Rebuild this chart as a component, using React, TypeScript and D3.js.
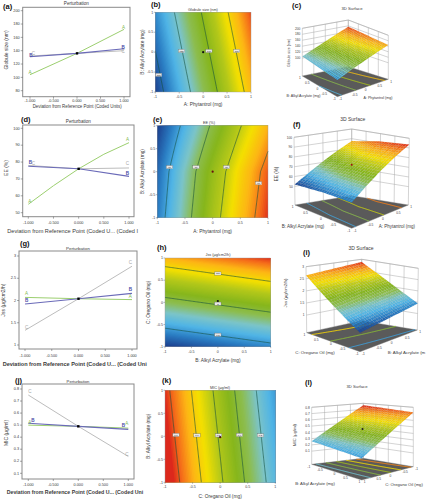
import React from "react";
import * as d3 from "d3";

// ---------- perturbation data ----------
const dev3 = [-1, 0, 1];
const dev5 = [-1, -0.5, 0, 0.5, 1];

const globuleTicks = [200, 180, 160, 140, 120, 100, 80];
const globuleA = [104, 136, 172];
const globuleB = [131, 136, 143];
const globuleC = [132, 136, 140];
const globuleLetters = [["A", -1, 108], ["A", 0.99, 175], ["B", -0.98, 133], ["B", 0.98, 145], ["C", -0.93, 136], ["C", 0.98, 139]];

const eeTicks = [100, 90, 80, 70, 60, 50];
const eeA = [55, 66, 76, 84.6, 91.5];
const eeB = [77.5, 76, 71.5];
const eeC = [78, 76, 76.5];
const eeLetters = [["A", -0.97, 56.5], ["A", 0.97, 93.5], ["B", -0.96, 80], ["B", 0.97, 73], ["C", -0.9, 79], ["C", 0.97, 79]];

const jssTicks = [3, 2.5, 2, 1.5, 1];
const jssA = [2.07, 2.04, 2.02];
const jssB = [1.92, 2.04, 2.16];
const jssC = [1.33, 2.04, 2.77];
const jssLetters = [["A", -0.97, 2.16], ["A", 0.97, 2.1], ["B", -0.97, 2.0], ["B", 0.97, 2.25], ["C", -0.97, 1.4], ["C", 0.97, 2.85]];

const micTicks = [0.8, 0.7, 0.6, 0.5, 0.4, 0.3, 0.2, 0.1];
const micA = [0.5, 0.49, 0.475];
const micB = [0.515, 0.49, 0.465];
const micC = [0.75, 0.49, 0.24];
const micLetters = [["A", -0.97, 0.52], ["A", 0.97, 0.515], ["B", -0.91, 0.54], ["B", 0.9, 0.495], ["C", -0.97, 0.78], ["C", 0.97, 0.26]];

// ---------- response surfaces, rows run from y = -1 to y = 1, columns from x = -1 to x = 1 ----------
const globuleGrid = [[93.8, 165], [105.8, 177]];
const eeGrid = [
  [57, 67.7, 77.6, 86.2, 93.5],
  [55.5, 66.2, 75.9, 84.6, 92],
  [52, 61.6, 71, 79.7, 87.5],
];
const jssGrid = [[1.2, 1.44], [2.64, 2.88]];
const micGrid = [[0.768, 0.258], [0.722, 0.212]];

const globuleLevels = [100, 120, 140, 160];
const eeLevels = [60, 70, 80, 90];
const jssLevels = [1.5, 2, 2.5];
const micLevels = [0.7, 0.6, 0.5, 0.4, 0.3];

const globuleFlags = [["100", -0.93, -0.57], ["120", -0.45, 0.03], ["140", 0.12, 0.03], ["160", 0.7, 0.03]];
const eeFlags = [["60", -0.78, 0.1], ["70", -0.3, 0.1], ["80", 0.25, 0.1], ["90", 0.83, -0.25]];
const jssFlags = [["2.5", 0, 0.65], ["2", 0, -0.03], ["1.5", 0, -0.73]];
const micFlags = [["0.7", -0.8, 0.03], ["0.6", -0.42, 0.02], ["0.5", -0.03, 0.02], ["0.4", 0.35, 0.03], ["0.3", 0.73, 0.02]];

const coded = [-1, -0.5, 0, 0.5, 1];
const globuleZ = [200, 180, 160, 140, 120, 100];
const eeZ = [100, 90, 80, 70, 60, 50];
const jssZ = [3, 2.5, 2, 1.5, 1];
const micZ = [0.8, 0.7, 0.6, 0.5, 0.4, 0.3, 0.2, 0.1];

const rampStops = [0, 0.12, 0.22, 0.32, 0.42, 0.52, 0.64, 0.74, 0.84, 0.93, 1];
const rampColors = ["#1c3f8e", "#2b7fc4", "#4fb4e6", "#7cc4c8", "#8cbd50", "#86b61c", "#b4c81a", "#f4e000", "#fdb515", "#f46a1a", "#d81c1c"];

const FONT = "'Liberation Sans', Arial, sans-serif";
const INK = "#3a3a3a";
const COL = { A: "#9ccf6f", B: "#6a6ab8", C: "#bdbdbd" };
const COLTXT = { A: "#7fb850", B: "#4c4ca8", C: "#a8a8a8" };

const ramp = d3.scaleLinear().domain(rampStops).range(rampColors).interpolate(d3.interpolateRgb).clamp(true);

function bilinear(grid, x, y) {
  const rows = grid.length - 1;
  const cols = grid[0].length - 1;
  const fy = ((y + 1) / 2) * rows;
  const fx = ((x + 1) / 2) * cols;
  const j = Math.min(Math.floor(fy), rows - 1);
  const i = Math.min(Math.floor(fx), cols - 1);
  const ty = fy - j;
  const tx = fx - i;
  const a = grid[j][i] * (1 - tx) + grid[j][i + 1] * tx;
  const b = grid[j + 1][i] * (1 - tx) + grid[j + 1][i + 1] * tx;
  return a * (1 - ty) + b * ty;
}

const N = 81;
const cellToCoded = d3.scaleLinear().domain([0.5, N - 0.5]).range([-1, 1]).clamp(true);

function sampled(grid) {
  const values = [];
  for (let j = 0; j < N; j++) {
    for (let i = 0; i < N; i++) {
      values.push(bilinear(grid, cellToCoded(i + 0.5), cellToCoded(j + 0.5)));
    }
  }
  return values;
}

// open polylines of one contour level, in coded units, with the rim of the grid removed
function levelLines(values, level) {
  const shape = d3.contours().size([N, N]).contour(values, level);
  const onRim = (p) => p[0] <= 0.5 + 1e-6 || p[0] >= N - 0.5 - 1e-6 || p[1] <= 0.5 + 1e-6 || p[1] >= N - 0.5 - 1e-6;
  const clampCell = (p) => [Math.max(0.5, Math.min(N - 0.5, p[0])), Math.max(0.5, Math.min(N - 0.5, p[1]))];
  const lines = [];
  shape.coordinates.forEach((poly) =>
    poly.forEach((ring) => {
      const pts = ring.map(clampCell);
      let cur = [];
      for (let k = 0; k < pts.length - 1; k++) {
        if (onRim(pts[k]) && onRim(pts[k + 1])) {
          if (cur.length) lines.push(cur);
          cur = [];
        } else {
          if (!cur.length) cur.push(pts[k]);
          cur.push(pts[k + 1]);
        }
      }
      if (cur.length) lines.push(cur);
    })
  );
  return lines.map((l) => l.map((p) => [cellToCoded(p[0]), cellToCoded(p[1])]));
}

function Perturb({ p }) {
  const [l, t, r, b] = p.frame;
  const x = d3.scaleLinear().domain([-1, 1]).range(p.xRange);
  const y = d3.scaleLinear().domain(p.yDomain).range(p.yRange);
  const line = d3.line().x((d) => x(d[0])).y((d) => y(d[1]));
  const xTicks = [-1, -0.5, 0, 0.5, 1];
  return (
    <g fontFamily={FONT}>
      <rect x={l} y={t} width={r - l} height={b - t} fill="#fff" stroke="#8a8a8a" strokeWidth={1} />
      {p.yTicks.map((v) => (
        <g key={v}>
          <line x1={l - 2} x2={l} y1={y(v)} y2={y(v)} stroke="#555" strokeWidth={0.5} />
          <text x={l - 3} y={y(v) + 1.2} fontSize={3.8} textAnchor="end" fill={INK}>{v}</text>
        </g>
      ))}
      {xTicks.map((v) => (
        <g key={v}>
          <line x1={x(v)} x2={x(v)} y1={b} y2={b + 2} stroke="#555" strokeWidth={0.5} />
          <text x={x(v)} y={p.tickY} fontSize={3.8} textAnchor="middle" fill={INK}>{v.toFixed(3)}</text>
        </g>
      ))}
      {p.series.map((s) => (
        <path key={s.k} d={line(s.xs.map((v, i) => [v, s.ys[i]]))} fill="none" stroke={COL[s.k]} strokeWidth={s.k === "B" ? 1.1 : 1} />
      ))}
      <rect x={x(0) - 1.2} y={y(p.center) - 1.2} width={2.4} height={2.4} fill="#000" />
      {p.letters.map((d, i) => (
        <text key={i} x={x(d[1])} y={y(d[2]) + 1.6} fontSize={4.6} textAnchor="middle" fill={COLTXT[d[0]]} fontWeight={d[0] === "B" ? 700 : 400}>{d[0]}</text>
      ))}
      <text x={(l + r) / 2} y={p.titleY} fontSize={p.titleSize} textAnchor="middle" fill={INK}>Perturbation</text>
      <text transform={`translate(${p.yLabelX},${p.yLabelC}) rotate(-90)`} fontSize={p.yLabelSize} textAnchor="middle" fill={INK}>{p.yLabel}</text>
      <text x={p.xLabel[0]} y={p.xLabel[1]} textLength={p.xLabel[2] - p.xLabel[0]} lengthAdjust="spacingAndGlyphs" fontSize={p.xLabel[4]} fontWeight={p.xLabel[5]} fill={INK}>{p.xLabel[3]}</text>
    </g>
  );
}

function ContourMap({ m }) {
  const [l, t, r, b] = m.frame;
  const x = d3.scaleLinear().domain([-1, 1]).range([l, r]);
  const y = d3.scaleLinear().domain([-1, 1]).range([b, t]);
  const values = sampled(m.grid);
  const color = d3.scaleLinear().domain(m.colorDomain).range([0, 1]).clamp(true);
  const bands = d3.range(m.colorDomain[0], m.colorDomain[1], (m.colorDomain[1] - m.colorDomain[0]) / 90);
  const fill = d3.contours().size([N, N]).thresholds(bands)(values);
  const geo = d3.geoPath(
    d3.geoTransform({
      point(gx, gy) {
        this.stream.point(x(cellToCoded(gx)), y(cellToCoded(gy)));
      },
    })
  );
  const line = d3.line().x((d) => x(d[0])).y((d) => y(d[1]));
  return (
    <g fontFamily={FONT}>
      <rect x={l} y={t} width={r - l} height={b - t} fill={ramp(color(d3.min(values)))} />
      {fill.map((c, i) => (
        <path key={i} d={geo(c)} fill={ramp(color(c.value))} />
      ))}
      {m.levels.map((lv) =>
        levelLines(values, lv).map((seg, i) => (
          <path key={`${lv}-${i}`} d={line(seg)} fill="none" stroke="#14503c" strokeOpacity={0.85} strokeWidth={0.7} />
        ))
      )}
      <rect x={l} y={t} width={r - l} height={b - t} fill="none" stroke="#999" strokeWidth={0.4} />
      {coded.map((v) => (
        <g key={v}>
          <line x1={x(v)} x2={x(v)} y1={b} y2={b + 1.5} stroke="#555" strokeWidth={0.4} />
          <text x={x(v)} y={b + 6} fontSize={3.6} textAnchor="middle" fill={INK}>{v}</text>
          <line x1={l - 1.5} x2={l} y1={y(v)} y2={y(v)} stroke="#555" strokeWidth={0.4} />
          <text x={l - 2} y={y(v) + 1.2} fontSize={3.6} textAnchor="end" fill={INK}>{v}</text>
        </g>
      ))}
      {m.flags.map((f, i) => (
        <g key={i}>
          <rect x={x(f[1]) - 3.2} y={y(f[2]) - 1.6} width={6.4} height={3.2} fill="#e6e6e6" stroke="#666" strokeWidth={0.3} />
          <text x={x(f[1])} y={y(f[2]) + 0.9} fontSize={2.4} textAnchor="middle" fill="#222">{f[0]}</text>
        </g>
      ))}
      <circle cx={x(m.dot[0])} cy={y(m.dot[1])} r={1.1} fill={m.dotColor} />
      <text x={m.titleX} y={m.titleY} fontSize={m.titleSize} textAnchor="middle" fill={INK}>{m.title}</text>
      <text x={(l + r) / 2} y={m.xLabelY} fontSize={4.8} textAnchor="middle" fill={INK}>{m.xLabel}</text>
      <text transform={`translate(${m.yLabelX},${(t + b) / 2}) rotate(-90)`} fontSize={4.8} textAnchor="middle" fill={INK}>{m.yLabel}</text>
    </g>
  );
}

function Surface({ s }) {
  const { front, right, left, back } = s.corners;
  const sign = s.flip ? -1 : 1;
  const w = d3.scaleLinear().domain(s.zDomain).range([0, 1]);
  const mix = (a, b, c, d, p, q, i) => a[i] * (1 - p) * (1 - q) + b[i] * p * (1 - q) + c[i] * (1 - p) * q + d[i] * p * q;
  // x and y are coded units, z is in response units
  const project = (x, y, z) => {
    const p = (sign * x + 1) / 2;
    const q = (sign * y + 1) / 2;
    const h = w(z);
    const at = (i) => {
      const base = mix(front[0], right[0], left[0], back[0], p, q, i);
      const top = mix(front[1], right[1], left[1], back[1], p, q, i);
      return base + (top - base) * h;
    };
    return [at(0), at(1)];
  };
  const floorZ = s.zDomain[0];
  const topZ = s.zDomain[1];
  const values = sampled(s.grid);
  const colorT = d3.scaleLinear().domain(s.colorDomain).range([0, 1]).clamp(true);
  const poly = (pts) => "M" + pts.map((p) => p.join(",")).join("L") + "Z";
  const floorLine = d3.line().x((d) => project(d[0], d[1], floorZ)[0]).y((d) => project(d[0], d[1], floorZ)[1]);

  const cells = [];
  const M = 24;
  const cuts = d3.range(M + 1).map((i) => -1 + (2 * i) / M);
  // back of the surface first
  const order = s.flip ? cuts.slice(0, M) : cuts.slice(0, M).reverse();
  order.forEach((yy) =>
    order.forEach((xx) => {
      const d = 2 / M;
      const corners = [[xx, yy], [xx + d, yy], [xx + d, yy + d], [xx, yy + d]];
      const pts = corners.map(([a, c]) => project(a, c, bilinear(s.grid, a, c)));
      const mid = bilinear(s.grid, xx + d / 2, yy + d / 2);
      cells.push(
        <path key={`${xx}-${yy}`} d={poly(pts)} fill={ramp(colorT(mid))} stroke="#000" strokeOpacity={0.12} strokeWidth={0.25} />
      );
    })
  );

  const grid = "#a8a8a8";
  const cornerLine = (a, b, f, k) => {
    const pa = [a[0][0] + (b[0][0] - a[0][0]) * f, a[0][1] + (b[0][1] - a[0][1]) * f];
    const pb = [a[1][0] + (b[1][0] - a[1][0]) * f, a[1][1] + (b[1][1] - a[1][1]) * f];
    return <line key={k} x1={pa[0]} y1={pa[1]} x2={pb[0]} y2={pb[1]} stroke={grid} strokeWidth={0.5} />;
  };
  const heightLine = (a, b, z, k) => {
    const h = w(z);
    const ya = a[0][1] + (a[1][1] - a[0][1]) * h;
    const xa = a[0][0] + (a[1][0] - a[0][0]) * h;
    const yb = b[0][1] + (b[1][1] - b[0][1]) * h;
    const xb = b[0][0] + (b[1][0] - b[0][0]) * h;
    return <line key={k} x1={xa} y1={ya} x2={xb} y2={yb} stroke={grid} strokeWidth={0.5} />;
  };
  const frontY = s.flip ? 1 : -1;
  const frontX = s.flip ? 1 : -1;
  const floorPts = [project(frontX, frontY, floorZ), project(-frontX, frontY, floorZ), project(-frontX, -frontY, floorZ), project(frontX, -frontY, floorZ)];
  return (
    <g fontFamily={FONT}>
      {coded.map((v) => cornerLine(left, back, (v + 1) / 2, `l${v}`))}
      {coded.map((v) => cornerLine(back, right, (v + 1) / 2, `r${v}`))}
      {s.zTicks.concat([topZ]).map((z, i) => heightLine(left, back, z, `hl${i}`))}
      {s.zTicks.concat([topZ]).map((z, i) => heightLine(back, right, z, `hr${i}`))}
      <path d={poly(floorPts)} fill="#5a5a5a" stroke="#777" strokeWidth={0.4} />
      {s.levels.map((lv) =>
        levelLines(values, lv).map((seg, i) => (
          <path key={`${lv}-${i}`} d={floorLine(seg)} fill="none" stroke={ramp(colorT(lv))} strokeWidth={1} />
        ))
      )}
      {cells}
      {s.dot ? (
        <circle cx={project(0, 0, bilinear(s.grid, 0, 0))[0]} cy={project(0, 0, bilinear(s.grid, 0, 0))[1]} r={1} fill={s.dot} />
      ) : null}
      {s.zTicks.map((z) => {
        const h = w(z);
        const px = left[0][0] + (left[1][0] - left[0][0]) * h;
        const py = left[0][1] + (left[1][1] - left[0][1]) * h;
        return (
          <text key={z} x={px - 2} y={py + 1.2} fontSize={3.2} textAnchor="end" fill={INK}>{z}</text>
        );
      })}
      {coded.map((v) => {
        const a = project(frontX, v, floorZ);
        const b = project(v, frontY, floorZ);
        return (
          <g key={v}>
            <text x={a[0] - 1.5} y={a[1] + 3.2} fontSize={3.2} textAnchor="end" fill={INK}>{v}</text>
            <text x={b[0] + 2} y={b[1] + 3.2} fontSize={3.2} textAnchor="start" fill={INK}>{v}</text>
          </g>
        );
      })}
      <text x={s.titleX} y={s.titleY} fontSize={s.titleSize} textAnchor="middle" fill={INK}>3D Surface</text>
      <text x={s.yAxis[0]} y={s.yAxis[1]} fontSize={s.labelSize} textAnchor="middle" fill={INK}>{s.yLabel}</text>
      <text x={s.xAxis[0]} y={s.xAxis[1]} fontSize={s.labelSize} textAnchor="middle" fill={INK}>{s.xLabel}</text>
      <text transform={`translate(${s.zAxis[0]},${s.zAxis[1]}) rotate(-90)`} fontSize={s.labelSize} textAnchor="middle" fill={INK}>{s.zLabel}</text>
    </g>
  );
}

const perturbs = [
  {
    frame: [22.7, 7.3, 130, 96.7], xRange: [30, 124], yDomain: [80, 200], yRange: [90.7, 10.7], yTicks: globuleTicks, center: 136, tickY: 101.5,
    series: [{ k: "C", xs: dev3, ys: globuleC }, { k: "A", xs: dev3, ys: globuleA }, { k: "B", xs: dev3, ys: globuleB }],
    letters: globuleLetters, titleY: 4.6, titleSize: 4.6, yLabel: "Globule size (nm)", yLabelX: 8, yLabelC: 50, yLabelSize: 5,
    xLabel: [32.7, 107.5, 121.7, "Deviation from Reference Point (Coded Units)", 5, 400],
  },
  {
    frame: [22.7, 125, 134, 216.7], xRange: [28.3, 129], yDomain: [50, 100], yRange: [212.7, 128.3], yTicks: eeTicks, center: 76, tickY: 224,
    series: [{ k: "C", xs: dev3, ys: eeC }, { k: "A", xs: dev5, ys: eeA }, { k: "B", xs: dev3, ys: eeB }],
    letters: eeLetters, titleY: 122.6, titleSize: 4.6, yLabel: "EE (%)", yLabelX: 7.5, yLabelC: 168, yLabelSize: 5,
    xLabel: [7.3, 232.5, 138, "Deviation from Reference Point (Coded U... (Coded I", 5.6, 400],
  },
  {
    frame: [19, 251, 137, 349], xRange: [25, 132], yDomain: [1, 3], yRange: [345, 256], yTicks: jssTicks, center: 2.04, tickY: 357,
    series: [{ k: "C", xs: dev3, ys: jssC }, { k: "A", xs: dev3, ys: jssA }, { k: "B", xs: dev3, ys: jssB }],
    letters: jssLetters, titleY: 249.6, titleSize: 4.4, yLabel: "Jss (µg/cm2/h)", yLabelX: 5, yLabelC: 300, yLabelSize: 5,
    xLabel: [2.7, 366, 146.7, "Deviation from Reference Point (Coded U... (Coded Uni", 6, 700],
  },
  {
    frame: [22, 384, 134, 479], xRange: [28.3, 128.3], yDomain: [0.1, 0.8], yRange: [473.3, 389], yTicks: micTicks, center: 0.49, tickY: 485.5,
    series: [{ k: "C", xs: dev3, ys: micC }, { k: "A", xs: dev3, ys: micA }, { k: "B", xs: dev3, ys: micB }],
    letters: micLetters, titleY: 383, titleSize: 4.2, yLabel: "MIC (µg/ml)", yLabelX: 7.5, yLabelC: 433, yLabelSize: 5,
    xLabel: [6.7, 493.5, 143.3, "Deviation from Reference Point (Coded U... (Coded Uni", 5.8, 700],
  },
];

const maps = [
  {
    frame: [155.3, 12.3, 251, 92], grid: globuleGrid, colorDomain: [93, 180], levels: globuleLevels, flags: globuleFlags, dot: [0, 0], dotColor: "#111",
    title: "Globule size (nm)", titleX: 203, titleY: 11, titleSize: 3.8, xLabel: "A: Phytantrol (mg)", xLabelY: 105.5, yLabel: "B: Alkyl Acrylate (mg)", yLabelX: 143.5,
  },
  {
    frame: [157.3, 125.7, 268, 217.7], grid: eeGrid, colorDomain: [52, 94], levels: eeLevels, flags: eeFlags, dot: [0, 0], dotColor: "#6a1010",
    title: "EE (%)", titleX: 209, titleY: 123.5, titleSize: 3.8, xLabel: "A: Phytantrol (mg)", xLabelY: 232.5, yLabel: "B: Alkyl Acrylate (mg)", yLabelX: 143.5,
  },
  {
    frame: [165, 258, 270.7, 346.7], grid: jssGrid, colorDomain: [1.2, 2.9], levels: jssLevels, flags: jssFlags, dot: [0, 0.03], dotColor: "#111",
    title: "Jss (µg/cm2/h)", titleX: 218, titleY: 256, titleSize: 3.8, xLabel: "B: Alkyl Acrylate (mg)", xLabelY: 361.5, yLabel: "C: Oregano Oil (mg)", yLabelX: 149.5,
  },
  {
    frame: [165, 390.3, 275.3, 482.3], grid: micGrid, colorDomain: [0.1, 0.73], levels: micLevels, flags: micFlags, dot: [0, -0.02], dotColor: "#4a1010",
    title: "MIC (µg/ml)", titleX: 220, titleY: 388.5, titleSize: 3.8, xLabel: "C: Oregano Oil (mg)", xLabelY: 498, yLabel: "B: Alkyl Acrylate (mg)", yLabelX: 149.5,
  },
];

const surfaces = [
  {
    corners: {
      left: [[302.3, 76], [302.3, 28.3]], back: [[348.3, 66.7], [348.3, 20]],
      right: [[388.3, 79.3], [388.3, 35.3]], front: [[337.3, 96.7], [337.3, 47.3]],
    },
    flip: false, zDomain: [40, 200], zTicks: globuleZ, grid: globuleGrid, colorDomain: [75, 180], levels: globuleLevels, dot: null, labelSize: 3.6,
    titleX: 352, titleY: 10, titleSize: 4.2, yLabel: "B: Alkyl Acrylate (mg)", yAxis: [303.5, 97], xLabel: "A: Phytantrol (mg)", xAxis: [378, 99], zLabel: "Globule size (nm)", zAxis: [290, 53],
  },
  {
    corners: {
      left: [[295, 205], [294, 137.3]], back: [[351.7, 195.7], [351.7, 129]],
      right: [[408.3, 205], [409.3, 138.3]], front: [[351.7, 228.3], [351.7, 160]],
    },
    flip: false, zDomain: [31, 100], zTicks: eeZ, grid: eeGrid, colorDomain: [52, 94], levels: eeLevels, dot: "#a01010", labelSize: 4.5,
    titleX: 352.7, titleY: 121, titleSize: 5, yLabel: "B: Alkyl Acrylate (mg)", yAxis: [303, 227.5], xLabel: "A: Phytantrol (mg)", xAxis: [397, 227.5], zLabel: "EE (%)", zAxis: [277.5, 174],
  },
  {
    corners: {
      left: [[306.7, 332.7], [306, 266.7]], back: [[361.7, 320.7], [361.7, 259.3]],
      right: [[417.3, 330], [418.3, 268.3]], front: [[360, 351.7], [360, 296]],
    },
    flip: false, zDomain: [0.27, 3], zTicks: jssZ, grid: jssGrid, colorDomain: [1.2, 2.9], levels: jssLevels, dot: null, labelSize: 4.4,
    titleX: 361, titleY: 250, titleSize: 5, yLabel: "C: Oregano Oil (mg)", yAxis: [315, 353.5], xLabel: "B: Alkyl Acrylate (m", xAxis: [406.5, 353.5], zLabel: "Jss (µg/cm2/h)", zAxis: [287, 293],
  },
  {
    corners: {
      left: [[311.7, 464.3], [311.7, 407.3]], back: [[363.3, 458.3], [363.3, 403.3]],
      right: [[413.3, 466.7], [413.3, 407.3]], front: [[361.7, 480], [361.7, 418.7]],
    },
    flip: true, zDomain: [-0.11, 0.8], zTicks: micZ, grid: micGrid, colorDomain: [0.1, 0.77], levels: micLevels, dot: "#222", labelSize: 4.2,
    titleX: 357, titleY: 387.5, titleSize: 4.2, yLabel: "B: Alkyl Acrylate (mg)", yAxis: [315, 484.5], xLabel: "C: Oregano Oil (mg)", xAxis: [404, 485.5], zLabel: "MIC (µg/ml)", zAxis: [296, 435],
  },
];

const panelTags = [
  ["(a)", 3, 9], ["(b)", 151, 6.5], ["(c)", 292, 7.5],
  ["(d)", 21, 121.5], ["(e)", 153, 121.5], ["(f)", 293, 127],
  ["(g)", 20, 246], ["(h)", 157, 250], ["(i)", 303, 255],
  ["(j)", 15, 383], ["(k)", 162, 383], ["(l)", 305, 385],
];

export default function App() {
  return (
    <svg width={428} height={500} viewBox="0 0 428 500" style={{ position: "absolute", left: 0, top: 0, background: "#fff" }}>
      {perturbs.map((p, i) => <Perturb key={i} p={p} />)}
      {maps.map((m, i) => <ContourMap key={i} m={m} />)}
      {surfaces.map((s, i) => <Surface key={i} s={s} />)}
      {panelTags.map((t) => (
        <text key={t[0]} x={t[1]} y={t[2]} fontFamily={FONT} fontSize={7.5} fontWeight={700} fill="#111">{t[0]}</text>
      ))}
    </svg>
  );
}
